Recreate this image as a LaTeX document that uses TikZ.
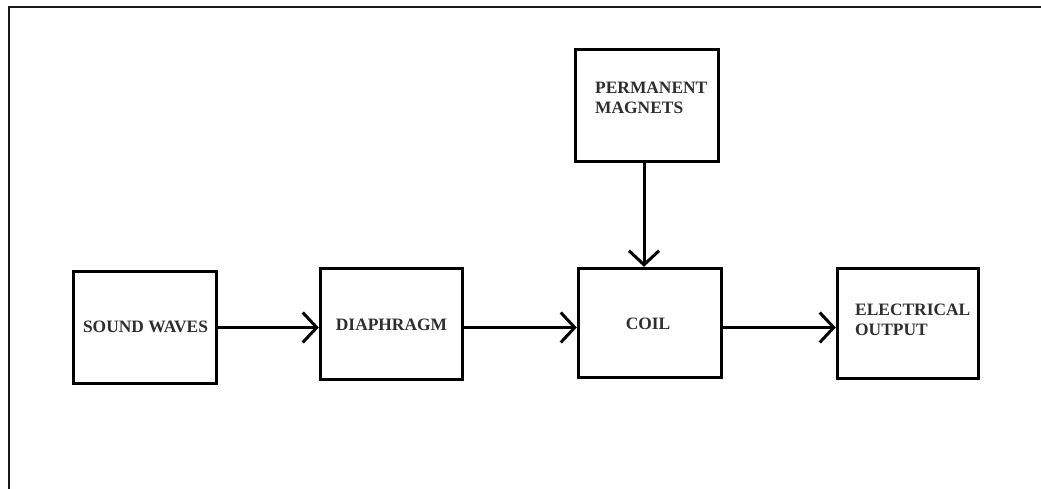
\documentclass[tikz,border=0pt]{standalone}
\usepackage{fontspec}
\setmainfont{Liberation Serif}
\usetikzlibrary{arrows.meta}
\tikzset{
  blk/.style={draw=black, line width=3.4pt, rectangle, inner sep=0pt},
  lbl/.style={font=\fontsize{17.4}{20}\selectfont\bfseries, text=black!82, inner sep=0pt, align=left},
  flow/.style={line width=3pt, -{Straight Barb[length=14pt,width=30pt,line width=3pt]}},
  frameline/.style={line width=2.4pt, draw=black!90}
}
\begin{document}
\begin{tikzpicture}[x=1pt,y=-1pt]
\useasboundingbox (0,0) rectangle (1041,489);
% outer frame (top and left only visible)
\coordinate (ftr) at (1041,7);
\coordinate (ftl) at (9,7);
\coordinate (fbl) at (9,489);
\draw[frameline] (ftr) -- (ftl) -- (fbl);

% boxes
\node[blk, minimum width=143pt, minimum height=112pt] (sw) at (145,327.5) {};
\node[blk, minimum width=142pt, minimum height=111pt] (dia) at (391.5,324) {};
\node[blk, minimum width=143pt, minimum height=109pt] (coil) at (650,323) {};
\node[blk, minimum width=141pt, minimum height=110pt] (out) at (908,323.5) {};
\node[blk, minimum width=143pt, minimum height=112pt] (pm) at (647,105.5) {};

% labels
\node[lbl] (swt) at (145.5,326.5) {SOUND WAVES};
\node[lbl] (diat) at (391.5,324.5) {DIAPHRAGM};
\node[lbl] (coilt) at (648,323.5) {COIL};
\node[lbl, anchor=north west] (outt) at (855,304) {ELECTRICAL\\OUTPUT};
\node[lbl, anchor=north west] (pmt) at (595,82) {PERMANENT\\MAGNETS};

% connectors
\draw[flow] (sw.east) -- (sw.east -| dia.west);
\draw[flow] (dia.east |- sw.east) -- (sw.east -| coil.west);
\draw[flow] (coil.east |- sw.east) -- (sw.east -| out.west);
\draw[flow] ([xshift=-3pt]pm.south) -- ([xshift=-3pt]pm.south |- coil.north);
\end{tikzpicture}
\end{document}
